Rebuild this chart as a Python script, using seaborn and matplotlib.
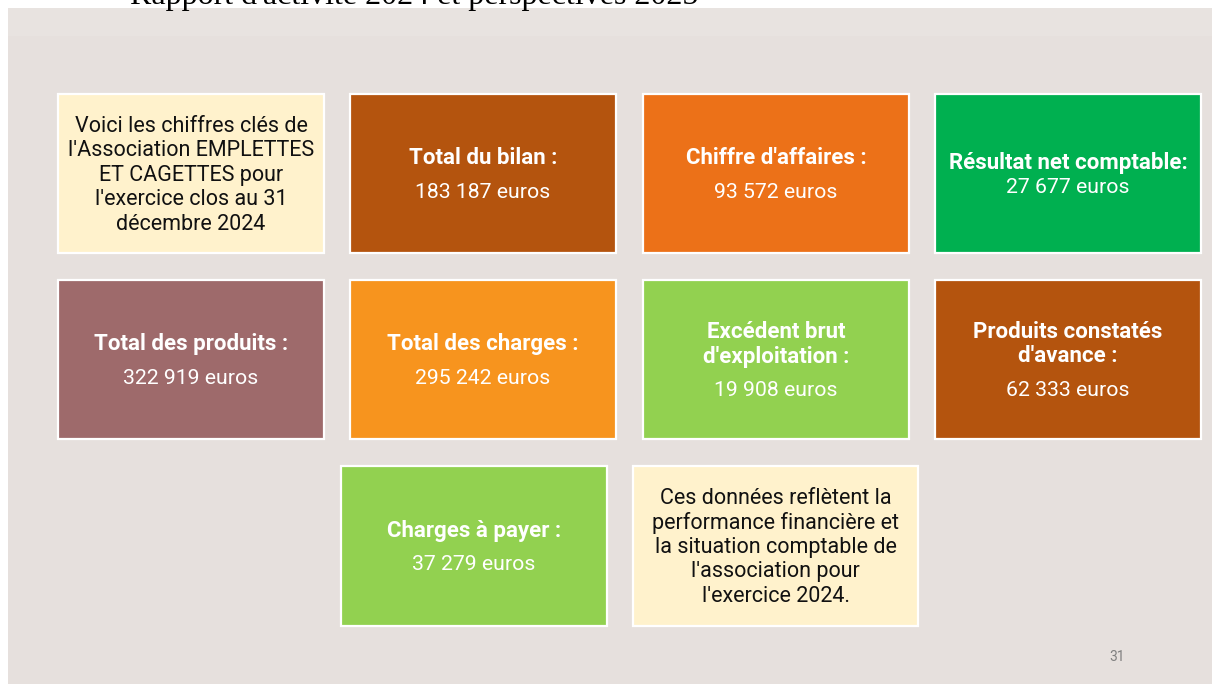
import seaborn as sns
import matplotlib.pyplot as plt
from matplotlib.patches import Rectangle

# Tile contents (row by row)
titles = [
    [],
    ["Total du bilan :"],
    ["Chiffre d'affaires :"],
    ["Résultat net comptable:"],
    ["Total des produits :"],
    ["Total des charges :"],
    ["Excédent brut", "d'exploitation :"],
    ["Produits constatés", "d'avance :"],
    ["Charges à payer :"],
    [],
]
values = ["", "183 187 euros", "93 572 euros", "27 677 euros",
          "322 919 euros", "295 242 euros", "19 908 euros", "62 333 euros",
          "37 279 euros", ""]
notes = {
    0: ["Voici les chiffres clés de", "l'Association EMPLETTES",
        "ET CAGETTES pour", "l'exercice clos au 31", "décembre 2024"],
    9: ["Ces données reflètent la", "performance financière et",
        "la situation comptable de", "l'association pour",
        "l'exercice 2024."],
}
colors = ["#FFF2CC", "#B4540E", "#EC7118", "#00B050",
          "#9E6A6B", "#F7941E", "#92D150", "#B4540E",
          "#92D150", "#FFF2CC"]

# layout (pixel grid of the slide)
boxes = [(58, 94, 266, 159), (350, 94, 266, 159), (643, 94, 266, 159), (935, 94, 266, 159),
         (58, 280, 266, 159), (350, 280, 266, 159), (643, 280, 266, 159), (935, 280, 266, 159),
         (341, 466, 266, 160), (633, 466, 285, 160)]

sns.set_theme(style="white")
plt.rcParams['font.family'] = ['Roboto', 'DejaVu Sans']

fig = plt.figure(figsize=(12.12, 6.84), dpi=100)
fig.patch.set_facecolor("white")
ax = fig.add_axes([0, 0, 1, 1])
ax.set_xlim(0, 1212)
ax.set_ylim(684, 0)
ax.axis("off")

# slide background
ax.add_patch(Rectangle((8, 8), 1204, 676, facecolor="#E6E0DD", edgecolor="none", zorder=0))
ax.add_patch(Rectangle((8, 8), 1204, 28, facecolor="#E8E3E0", edgecolor="none", zorder=0))

ax.text(130, 4, "Rapport d'activité 2024 et perspectives 2025", fontsize=23,
        family=['Liberation Serif', 'DejaVu Serif'], color="black",
        ha="left", va="baseline", zorder=1)

for i, (x, y, w, h) in enumerate(boxes):
    ax.add_patch(Rectangle((x, y), w, h, facecolor=colors[i], edgecolor="white",
                           linewidth=1.6, zorder=2))
    cx, cy = x + w / 2, y + h / 2 + 1.5
    if i in notes:
        lines = notes[i]
        n = len(lines)
        for k, line in enumerate(lines):
            ax.text(cx, cy + (k - (n - 1) / 2) * 24.5, line, fontsize=15.5,
                    color="#111111", ha="center", va="center", zorder=3)
        continue
    t = titles[i]
    gap = 25 if i == 3 else 34
    total = (len(t) - 1) * 25 + gap
    y0 = cy - total / 2
    for k, line in enumerate(t):
        ax.text(cx, y0 + k * 25, line, fontsize=16, fontweight="bold",
                color="white", ha="center", va="center", zorder=3)
    ax.text(cx, y0 + (len(t) - 1) * 25 + gap, values[i], fontsize=15.3,
            color="white", ha="center", va="center", zorder=3)

ax.text(1117, 657, "31", fontsize=10, color="#808080", ha="center", va="center", zorder=3)

fig.savefig("out.png", dpi=100, facecolor=fig.get_facecolor())
